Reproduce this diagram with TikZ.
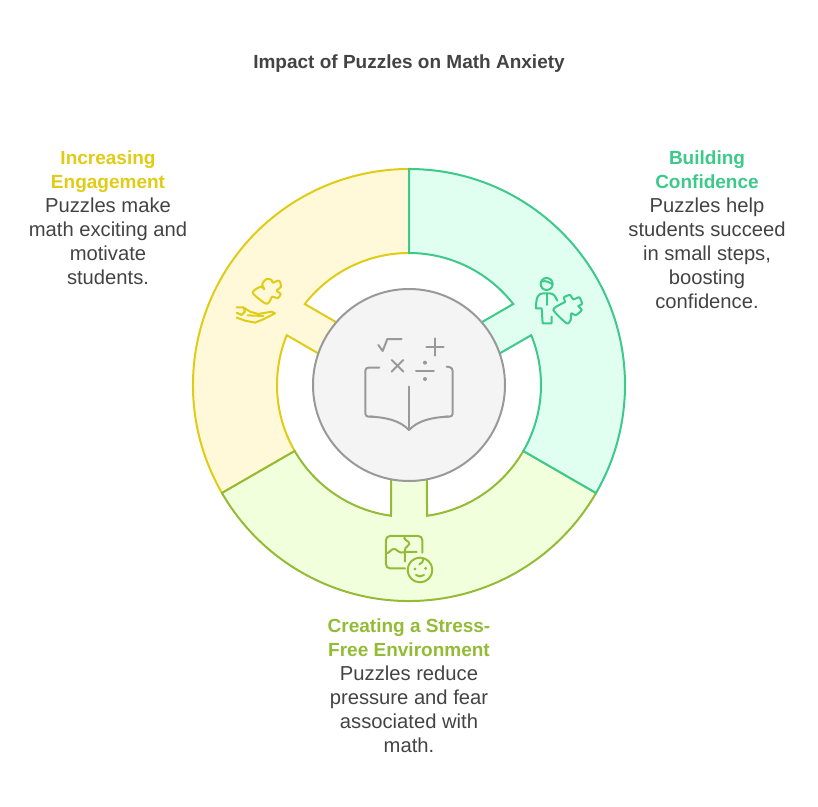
\documentclass[tikz,border=0pt]{standalone}
\usepackage{fontspec}
\setmainfont{Liberation Sans}
\definecolor{inktext}{HTML}{434343}
\definecolor{yellowline}{HTML}{E0CB15}
\definecolor{yellowfill}{HTML}{FFF9DA}
\definecolor{greenline}{HTML}{3CC98A}
\definecolor{greenfill}{HTML}{E0FFF0}
\definecolor{limeline}{HTML}{93BB35}
\definecolor{limefill}{HTML}{F2FFDC}
\definecolor{coreline}{HTML}{999999}
\definecolor{corefill}{HTML}{F4F4F4}
\newcommand{\headline}[2]{\textcolor{#1}{\fontsize{19}{24}\selectfont\bfseries #2}}
\begin{document}
\begin{tikzpicture}[x=1pt,y=1pt]
        \tikzstyle{every node}=[text=inktext,align=center,inner sep=0pt,font=\fontsize{20.2}{24}\selectfont]
        \tikzstyle{icon}=[line width=2pt,line cap=round,line join=round]
        \useasboundingbox (-409,-421) rectangle (409,385);
        \foreach \a/\l/\f in {150/yellowline/yellowfill,270/limeline/limefill,30/greenline/greenfill} {
            \draw[draw=\l,fill=\f,line width=2pt,line join=miter] (\a+60:216) arc[start angle=\a+60,end angle=\a-60,radius=216]
                -- (\a-60:132) arc[start angle=\a-60,end angle=\a-7.84,radius=132]
                -- (\a-11.3:91.8) -- (\a+11.3:91.8) -- (\a+7.84:132)
                arc[start angle=\a+7.84,end angle=\a+60,radius=132] -- cycle;
        }
        \node[circle,draw=coreline,fill=corefill,line width=2pt,minimum size=192pt] (core) at (0,0) {};
        \node[font=\fontsize{19}{24}\selectfont\bfseries] (title) at (0,321) {Impact of Puzzles on Math Anxiety};
        \node[anchor=north] (engage) at (-301,234) {\headline{yellowline}{Increasing}\\\headline{yellowline}{Engagement}\\Puzzles make\\math exciting and\\motivate\\students.};
        \node[anchor=north] (confid) at (298,234) {\headline{greenline}{Building}\\\headline{greenline}{Confidence}\\Puzzles help\\students succeed\\in small steps,\\boosting\\confidence.};
        \node[anchor=north] (stress) at (0,-234) {\headline{limeline}{Creating a Stress-}\\\headline{limeline}{Free Environment}\\Puzzles reduce\\pressure and fear\\associated with\\math.};
        % hand and puzzle piece
        \begin{scope}[shift={(-209,145)},x=0.3333pt,y=-0.3333pt,icon,draw=yellowline]
            \draw plot[smooth cycle,tension=0.5] coordinates {(158,158) (183,140) (193,148) (187,132) (200,117) (215,120) (218,128) (237,122) (243,140) (230,152) (242,162) (233,175) (217,170) (207,187) (195,190)};
            \draw (110,202) -- (130,202) -- (150,215) -- (175,222) -- (215,215) -- (225,220) -- (190,238) -- (165,248) -- (135,242) -- (110,233);
            \draw (130,202) -- (135,215) -- (125,225) -- (110,218);
            \draw (143,226) -- (190,228);
        \end{scope}
        % person and puzzle piece
        \begin{scope}[shift={(71,145)},x=0.3333pt,y=-0.3333pt,icon,draw=greenline]
            \draw (200,132) circle[radius=18];
            \draw (187,124) .. controls (197,122) and (208,126) .. (217,133);
            \draw (232,182) .. controls (226,170) and (222,160) .. (208,160) -- (190,160) .. controls (175,160) and (168,170) .. (168,205) -- (185,205) -- (188,250) -- (215,250) -- (215,230);
            \draw (200,162) -- (200,195);
            \draw plot[smooth cycle,tension=0.4] coordinates {(220,210) (243,192) (255,186) (252,172) (270,165) (280,178) (298,172) (306,192) (295,198) (305,210) (287,226) (274,220) (272,240) (260,250)};
        \end{scope}
        % book and signs
        \begin{scope}[shift={(-59,65)},x=0.3333pt,y=-0.3333pt,icon,draw=coreline]
            \draw (85,75) -- (98,93) -- (112,57) -- (155,57);
            \draw (255,55) -- (255,107) (229,81) -- (281,81);
            \draw (125,120) -- (160,155) (160,120) -- (125,155);
            \draw (198,153) -- (252,153);
            \fill[coreline] (225,128) circle[radius=6] (225,177) circle[radius=6];
            \draw[rounded corners=3pt] (88,143) -- (46,143) -- (46,290) -- (70,290);
            \draw (60,290) .. controls (110,292) and (150,302) .. (177,330) .. controls (204,302) and (244,292) .. (295,290);
            \draw[rounded corners=3pt] (285,290) -- (308,290) -- (308,143) -- (290,140);
            \draw (177,200) -- (177,330);
        \end{scope}
        % puzzle board and face
        \begin{scope}[shift={(-49,-85)},x=0.3333pt,y=-0.3333pt,icon,draw=limeline]
            \draw[rounded corners=4pt] (135,295) -- (78,295) -- (78,198) -- (187,198) -- (187,248);
            \draw (78,250) .. controls (90,250) and (92,235) .. (105,237) .. controls (118,240) and (112,252) .. (135,246) -- (170,246);
            \draw (135,198) .. controls (125,210) and (150,212) .. (148,222) .. controls (146,232) and (135,228) .. (135,240) -- (135,275);
            \draw (180,300) circle[radius=37];
            \fill[limeline] (165,297) circle[radius=5] (197,295) circle[radius=5];
            \draw (168,315) .. controls (175,321) and (185,321) .. (192,315);
            \draw (178,283) .. controls (185,280) and (190,275) .. (190,268);
        \end{scope}
\end{tikzpicture}
\end{document}
